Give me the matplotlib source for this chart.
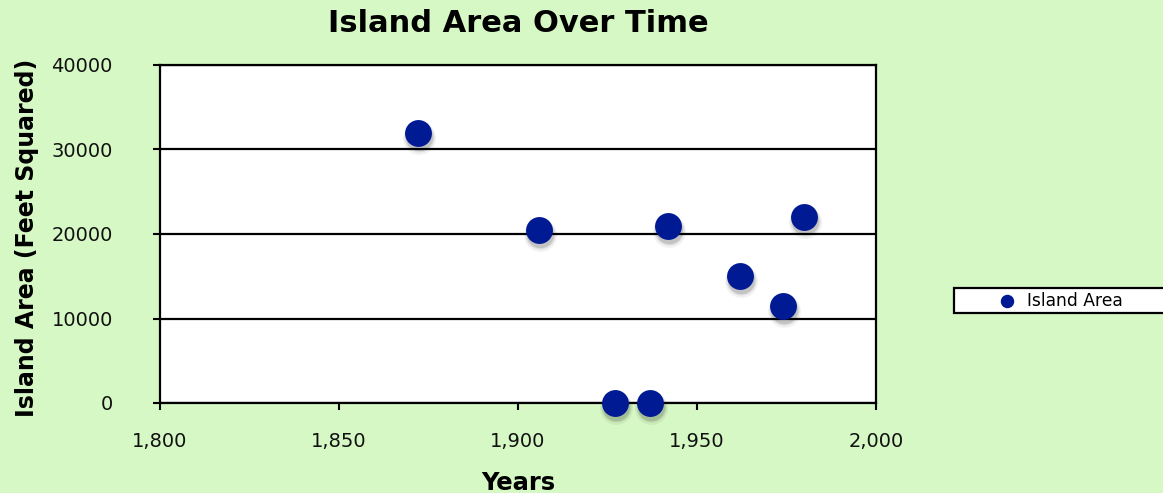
import matplotlib.pyplot as plt
from matplotlib.ticker import FuncFormatter
from matplotlib.legend_handler import HandlerPathCollection
from matplotlib.collections import PathCollection
import matplotlib.transforms as mtransforms

# Island area survey data
years = [1872, 1906, 1927, 1937, 1942, 1962, 1974, 1980]
areas = [32000, 20500, 0, 0, 21000, 15000, 11500, 22000]

x_ticks = [1800, 1850, 1900, 1950, 2000]
y_ticks = [0, 10000, 20000, 30000, 40000]

bg = '#d6f8c4'
dot = '#001a94'

plt.rcParams['font.family'] = 'DejaVu Sans'

W, H = 1163, 493
fig = plt.figure(figsize=(W / 100, H / 100), dpi=100, facecolor=bg)
ax = fig.add_axes([160 / W, 1 - 403 / H, 716 / W, 338 / H])
ax.set_facecolor('white')

# soft drop shadow under each dot
for dx, dy, s, a in [(1, -5, 560, 0.05), (1, -4, 470, 0.08), (1, -4, 390, 0.12)]:
    shadow = mtransforms.offset_copy(ax.transData, fig=fig, x=dx, y=dy, units='dots')
    ax.scatter(years, areas, s=s, color='black', alpha=a, linewidths=0,
               transform=shadow, clip_on=False, zorder=4)

ax.scatter(years, areas, s=375, color=dot, linewidths=0, clip_on=False,
           zorder=5, label='Island Area')

ax.set_xlim(1800, 2000)
ax.set_ylim(0, 40000)
ax.set_xticks(x_ticks)
ax.set_yticks(y_ticks)
ax.xaxis.set_major_formatter(FuncFormatter(lambda v, p: f'{int(v):,}'))
ax.yaxis.set_major_formatter(FuncFormatter(lambda v, p: f'{int(v)}'))
ax.tick_params(axis='both', direction='out', length=5, width=1.5, colors='black',
               labelsize=14, labelcolor='#111111')
ax.tick_params(axis='y', pad=29)
ax.tick_params(axis='x', pad=16)

ax.grid(axis='y', color='black', linewidth=1.6)
ax.set_axisbelow(True)
for side in ['left', 'right', 'bottom', 'top']:
    ax.spines[side].set_linewidth(1.6)
    ax.spines[side].set_color('black')

ax.set_title('Island Area Over Time', fontsize=22, fontweight='bold',
             y=(403 - 23) / 338, va='center', pad=0)
ax.set_xlabel('Years', fontsize=17.5, fontweight='bold')
ax.xaxis.set_label_coords(0.5, (403 - 483) / 338)
ax.xaxis.label.set_va('center')
ax.set_ylabel('Island Area (Feet Squared)', fontsize=17, fontweight='bold')
ax.yaxis.set_label_coords((27 - 160) / 716, (403 - 238) / 338)
ax.yaxis.label.set_va('center')

leg = fig.legend(loc='center left',
                 bbox_to_anchor=(954 / W, 1 - 312 / H, 260 / W, 23 / H),
                 mode='expand', frameon=True, fancybox=False, fontsize=12.3,
                 markerscale=0.5, handlelength=3.6, handletextpad=0.5,
                 borderpad=0.2, borderaxespad=0,
                 handler_map={PathCollection: HandlerPathCollection(xpad=2.2)})
frame = leg.get_frame()
frame.set_edgecolor('black')
frame.set_linewidth(1.6)
frame.set_facecolor('white')
frame.set_alpha(1)

fig.savefig('out.png', dpi=100, facecolor=bg)
